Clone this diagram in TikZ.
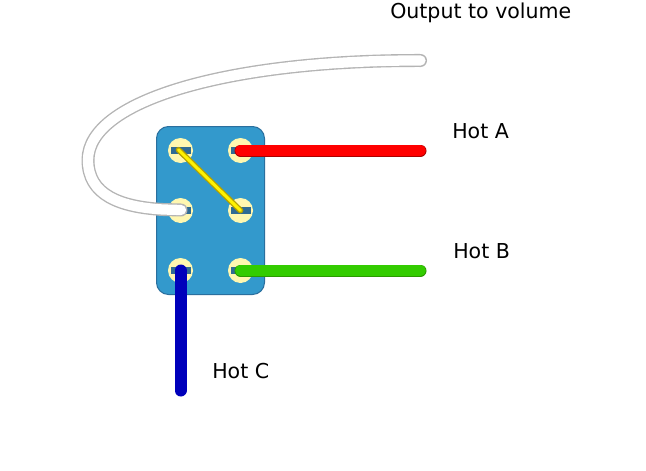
\documentclass[tikz,border=0pt]{standalone}
\usepackage{fontspec}
\setmainfont{DejaVu Sans}
\definecolor{bodyblue}{HTML}{3399CC}
\definecolor{bodyedge}{HTML}{2A6F9E}
\definecolor{lug}{HTML}{FFF7B0}
\definecolor{slot}{HTML}{2F6B94}
\definecolor{wred}{HTML}{FF0000}
\definecolor{wredl}{HTML}{AA0000}
\definecolor{wgreen}{HTML}{33CC00}
\definecolor{wgreenl}{HTML}{2A9900}
\definecolor{wblue}{HTML}{0000BB}
\definecolor{wgrey}{HTML}{B4B4B4}
\definecolor{wolive}{HTML}{B3A000}
\tikzset{
  lbl/.style={font=\fontsize{15.4}{18}\selectfont,text=black,inner sep=0pt,anchor=base west},
  lugc/.style={circle,fill=lug,minimum size=18.75pt,inner sep=0pt,outer sep=0pt},
  slotb/.style={fill=slot,minimum width=15pt,minimum height=5.5pt,inner sep=0pt},
  term/.style={inner sep=0pt,outer sep=0pt,minimum size=0pt},
  wire/.style={line cap=round,line join=round}
}
\begin{document}
\begin{tikzpicture}[x=0.75pt,y=-0.75pt]
\useasboundingbox (0,0) rectangle (646,471);
\fill[white] (0,0) rectangle (646,471);
\draw[fill=bodyblue,draw=bodyedge,line width=0.75pt,rounded corners=9pt] (156.5,126.5) rectangle (264.5,294.5);
\foreach \n/\x/\y in {a/180.5/150.5,b/240.5/150.5,c/180.5/210.5,d/240.5/210.5,e/180.5/270.5,f/240.5/270.5}{
  \node[lugc] (lug\n) at (\x,\y) {};
  \node[slotb] (slot\n) at (\x,\y) {};
  \node[term] (t\n) at (\x,\y) {};
}
\coordinate (outend) at (420.5,60.5);
\coordinate (whitestart) at (181,210);
\coordinate (hotaend) at (420.5,150.5);
\coordinate (hotbend) at (420.5,270.5);
\coordinate (hotcend) at (180.5,390.5);
% white output wire
\draw[wire,draw=wgrey,line width=9.75pt] (whitestart) -- (163,209.5) .. controls (120,207) and (88,195) .. (88,160) .. controls (88,100) and (230,60) .. (outend);
\draw[wire,draw=white,line width=7.7pt] (whitestart) -- (163,209.5) .. controls (120,207) and (88,195) .. (88,160) .. controls (88,100) and (230,60) .. (outend);
% yellow jumper
\draw[wire,draw=wolive,line width=4.3pt] ([shift={(-1.5pt,0.5pt)}]ta.center) -- (td.center);
\draw[wire,draw=yellow,line width=2.3pt] ([shift={(-1.5pt,0.5pt)}]ta.center) -- (td.center);
% red
\draw[wire,draw=wredl,line width=9pt] (tb.center) -- (hotaend);
\draw[wire,draw=wred,line width=8pt] (tb.center) -- (hotaend);
% green
\draw[wire,draw=wgreenl,line width=9pt] (tf.center) -- (hotbend);
\draw[wire,draw=wgreen,line width=8pt] (tf.center) -- (hotbend);
% blue
\draw[wire,draw=wblue,line width=9pt] (te.center) -- (hotcend);
\node[lbl] (out) at (390,18) {Output to volume};
\node[lbl] (hota) at (452,138) {Hot A};
\node[lbl] (hotb) at (453,258) {Hot B};
\node[lbl] (hotc) at (212,378) {Hot C};
\end{tikzpicture}
\end{document}
